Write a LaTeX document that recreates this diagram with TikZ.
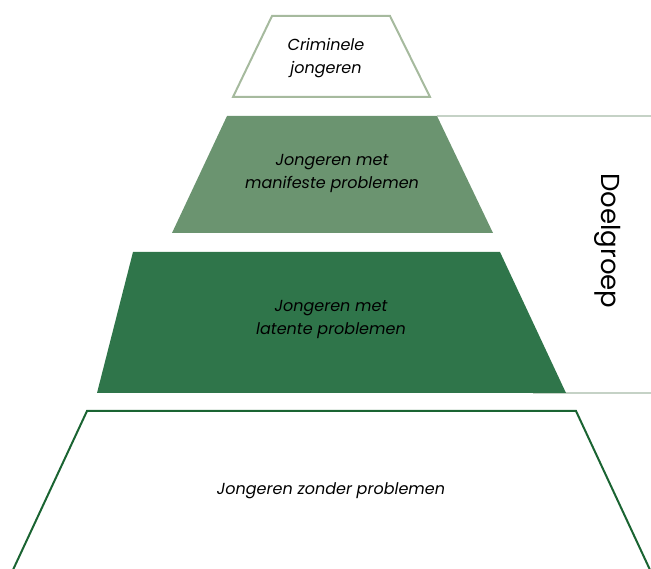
\documentclass[tikz,border=0pt]{standalone}
\usepackage{fontspec}
\setmainfont{Poppins}
\definecolor{topline}{HTML}{A6BA9E}
\definecolor{midfill}{HTML}{6B9470}
\definecolor{darkfill}{HTML}{2F754A}
\definecolor{basegreen}{HTML}{1A6432}
\definecolor{rulegrey}{HTML}{C5D2C6}
\begin{document}
\begin{tikzpicture}[x=1pt,y=-1pt,
  lbl/.style={font=\fontsize{16}{23}\selectfont\itshape, align=center, text=black},
  sidelbl/.style={font=\fontsize{26}{30}\selectfont, rotate=-90, text=black}]
\useasboundingbox (0,0) rectangle (651,569);
% guide lines
\coordinate (r1a) at (437,116); \coordinate (r1b) at (651,116);
\coordinate (r2a) at (533,393); \coordinate (r2b) at (651,393);
\draw[rulegrey, line width=1.2pt] (r1a) -- (r1b);
\draw[rulegrey, line width=1.2pt] (r2a) -- (r2b);
% top
\draw[topline, line width=2pt] (272,16) -- (390,16) -- (430,97) -- (233,97) -- cycle;
% middle
\fill[midfill] (227,116) -- (437,116) -- (493,233) -- (172,233) -- cycle;
% dark
\fill[darkfill] (133,252) -- (500,252) -- (566,393) -- (97,393) -- cycle;
% base
\draw[basegreen, line width=2pt] (12,572) -- (87,411) -- (576,411) -- (651,572);
\node[lbl] (crim) at (326,58) {Criminele\\jongeren};
\node[lbl] (mani) at (332,174) {Jongeren met\\manifeste problemen};
\node[lbl] (late) at (331,320) {Jongeren met\\latente problemen};
\node[lbl] (zond) at (331,491) {Jongeren zonder problemen};
\node[sidelbl] (doel) at (608,241) {Doelgroep};
\end{tikzpicture}
\end{document}
